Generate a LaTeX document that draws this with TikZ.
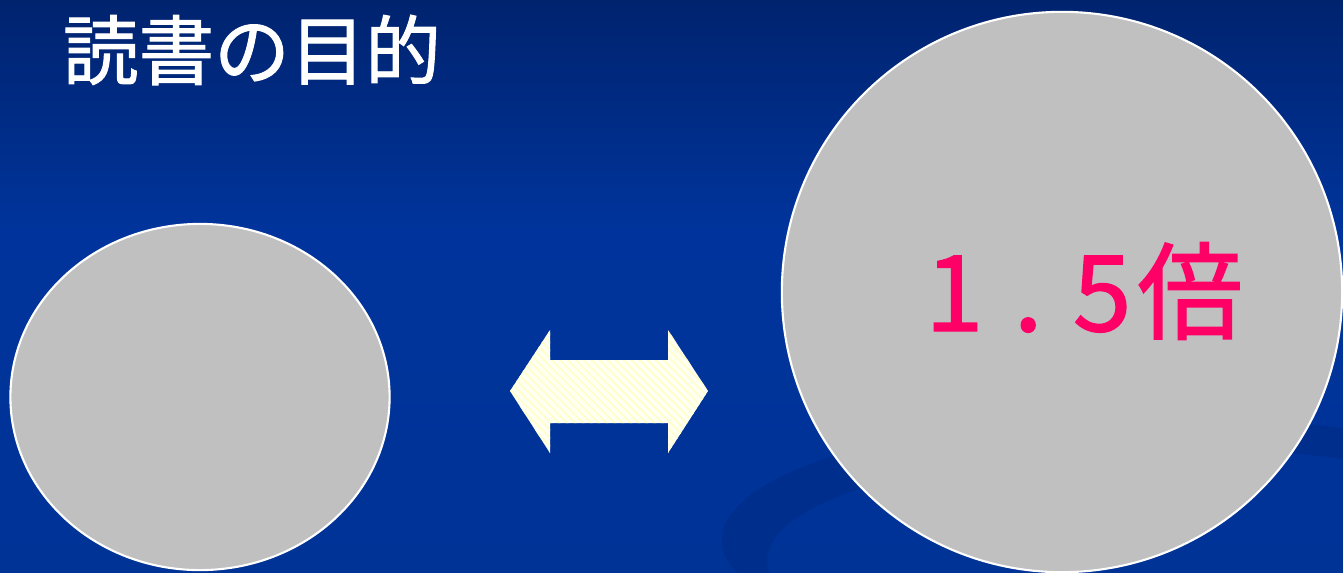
\documentclass[tikz,border=0pt]{standalone}
\usepackage{fontspec}
\newfontfamily\jafont{Noto Sans CJK JP}[FakeBold=1.3]
\usetikzlibrary{shapes.geometric,patterns.meta}
\definecolor{bgtop}{RGB}{0,35,110}
\definecolor{bgmid}{RGB}{0,52,156}
\definecolor{bgbot}{RGB}{0,51,150}
\definecolor{swirl}{RGB}{0,46,140}
\definecolor{discgray}{RGB}{192,192,192}
\definecolor{ratepink}{RGB}{255,0,102}
\definecolor{arrowfill}{RGB}{255,255,244}
\definecolor{arrowstripe}{RGB}{255,255,200}
\begin{document}
\begin{tikzpicture}[x=0.01cm,y=-0.01cm,
    disc/.style={ellipse,draw=white,line width=0.6pt,fill=discgray,inner sep=0pt},
    twinarrow/.style={preaction={fill=arrowfill},pattern={Lines[angle=-45,distance=1.6pt,line width=0.5pt]},pattern color=arrowstripe}]
                \useasboundingbox (0,0) rectangle (1343,572);
                \shade[top color=bgtop,bottom color=bgmid] (0,0) rectangle (1343,230);
                \shade[top color=bgmid,bottom color=bgbot] (0,230) rectangle (1343,572);
                \begin{scope}
                    \clip (0,0) rectangle (1343,572);
                    \fill[swirl,even odd rule] (1150,540) ellipse [x radius=428,y radius=125]
                        (1170,560) ellipse [x radius=403,y radius=112];
                \end{scope}
                \node[text=white,inner sep=0pt,font=\jafont\fontsize{21.5pt}{21.5pt}\selectfont] (title) at (252,50) {読書の目的};
                \node[disc,minimum width=3.79cm,minimum height=3.46cm] (before) at (200,397) {};
                \node[disc,minimum size=5.6cm] (after) at (1062,292) {};
                \node[text=ratepink,inner sep=0pt,font=\jafont\fontsize{30pt}{30pt}\selectfont] (ratio) at (1084,291) {1\kern0.3cm.\kern0.3cm5\kern0.06cm倍};
                \path[twinarrow] (510,391) -- (550,330) -- (550,360) -- (668,360) -- (668,330) -- (708,391)
                    -- (668,453) -- (668,423) -- (550,423) -- (550,453) -- cycle;
            \end{tikzpicture}
\end{document}
